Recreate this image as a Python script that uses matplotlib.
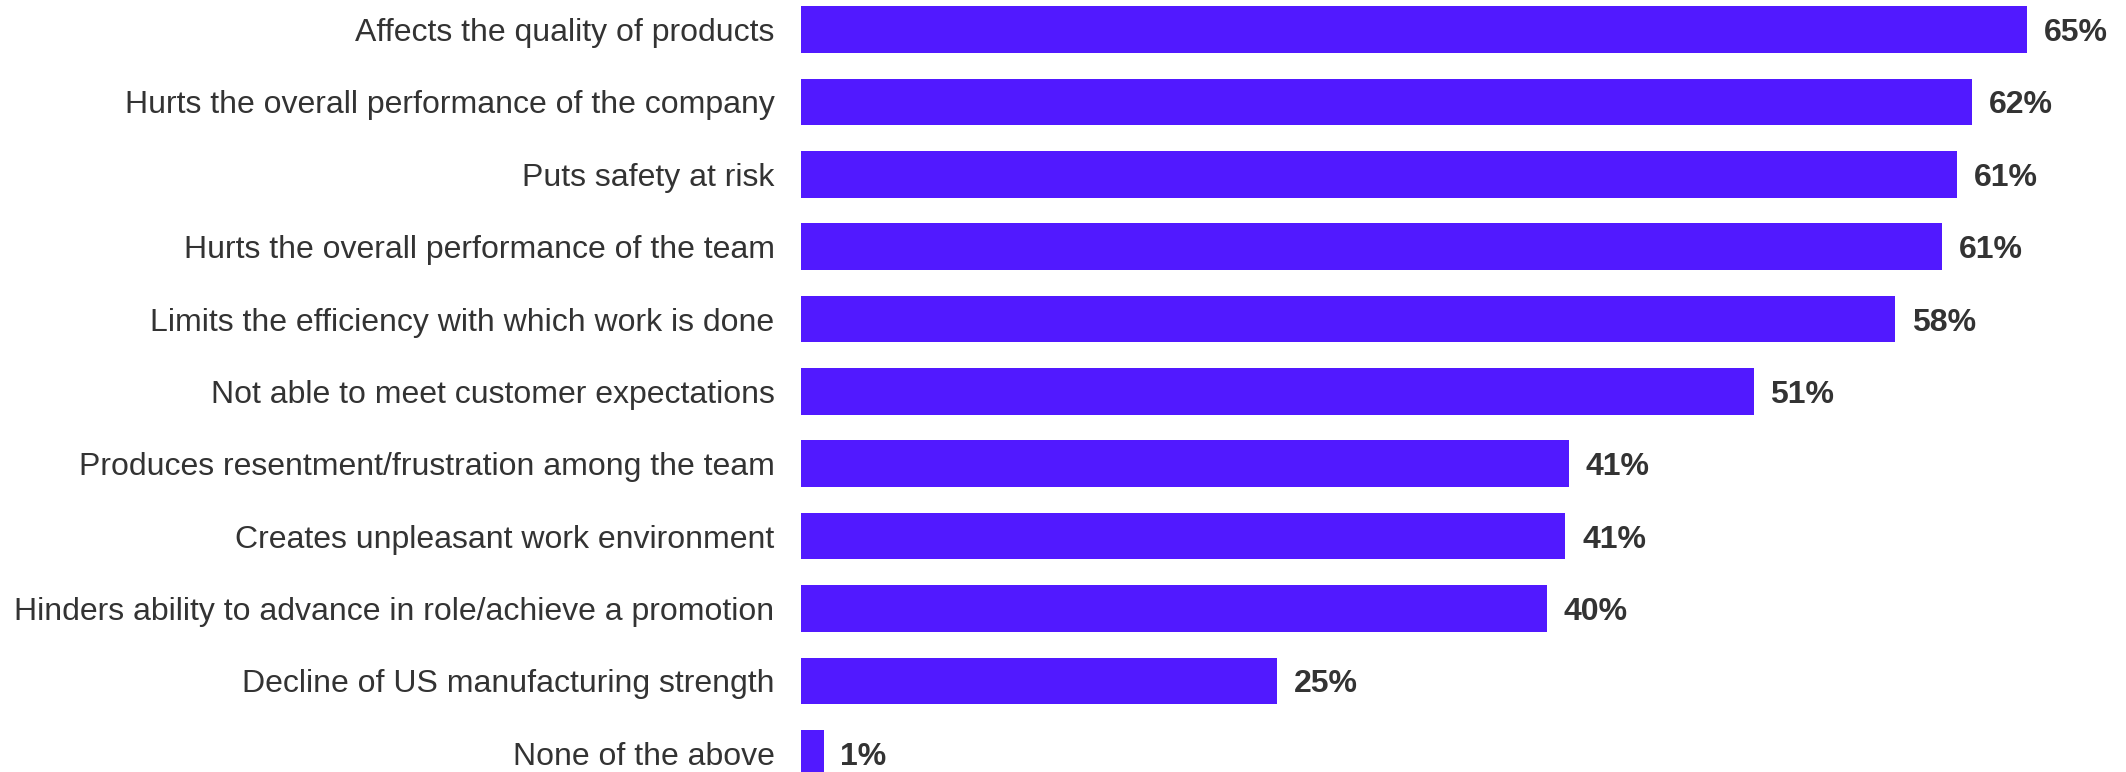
"""Horizontal bar chart of reported impacts, sorted by share of respondents."""

import matplotlib

matplotlib.use("Agg")
import matplotlib.pyplot as plt

plt.rcParams["font.family"] = ["Liberation Sans", "DejaVu Sans"]

IMPACTS = [
    "Affects the quality of products",
    "Hurts the overall performance of the company",
    "Puts safety at risk",
    "Hurts the overall performance of the team",
    "Limits the efficiency with which work is done",
    "Not able to meet customer expectations",
    "Produces resentment/frustration among the team",
    "Creates unpleasant work environment",
    "Hinders ability to advance in role/achieve a promotion",
    "Decline of US manufacturing strength",
    "None of the above",
]
SHARES = [65.1, 62.2, 61.4, 60.6, 58.1, 50.6, 40.8, 40.6, 39.6, 25.3, 1.2]

BAR_COLOR = "#5119FF"
TEXT_COLOR = "#333333"

W, H, DPI = 2126, 772, 100
fig = plt.figure(figsize=(W / DPI, H / DPI), dpi=DPI)
left = 801 / W
ax = fig.add_axes([left, 0, 1 - left, 1])

positions = list(range(len(IMPACTS)))
ax.barh(positions, SHARES, height=0.643, color=BAR_COLOR)

for pos, share in zip(positions, SHARES):
    ax.annotate(
        f"{share:.0f}%",
        xy=(share, pos),
        xytext=(12, 0),
        textcoords="offset points",
        ha="left",
        va="center_baseline",
        fontsize=23,
        fontweight="bold",
        color=TEXT_COLOR,
    )

ax.set_yticks(positions, IMPACTS)
ax.tick_params(axis="y", length=0, pad=19, labelsize=23, labelcolor=TEXT_COLOR)
ax.set_xticks([])
ax.set_xlim(0, 70.37)
ax.set_ylim(10.26, -0.409)
for spine in ax.spines.values():
    spine.set_visible(False)

fig.savefig("out.png", dpi=DPI)
